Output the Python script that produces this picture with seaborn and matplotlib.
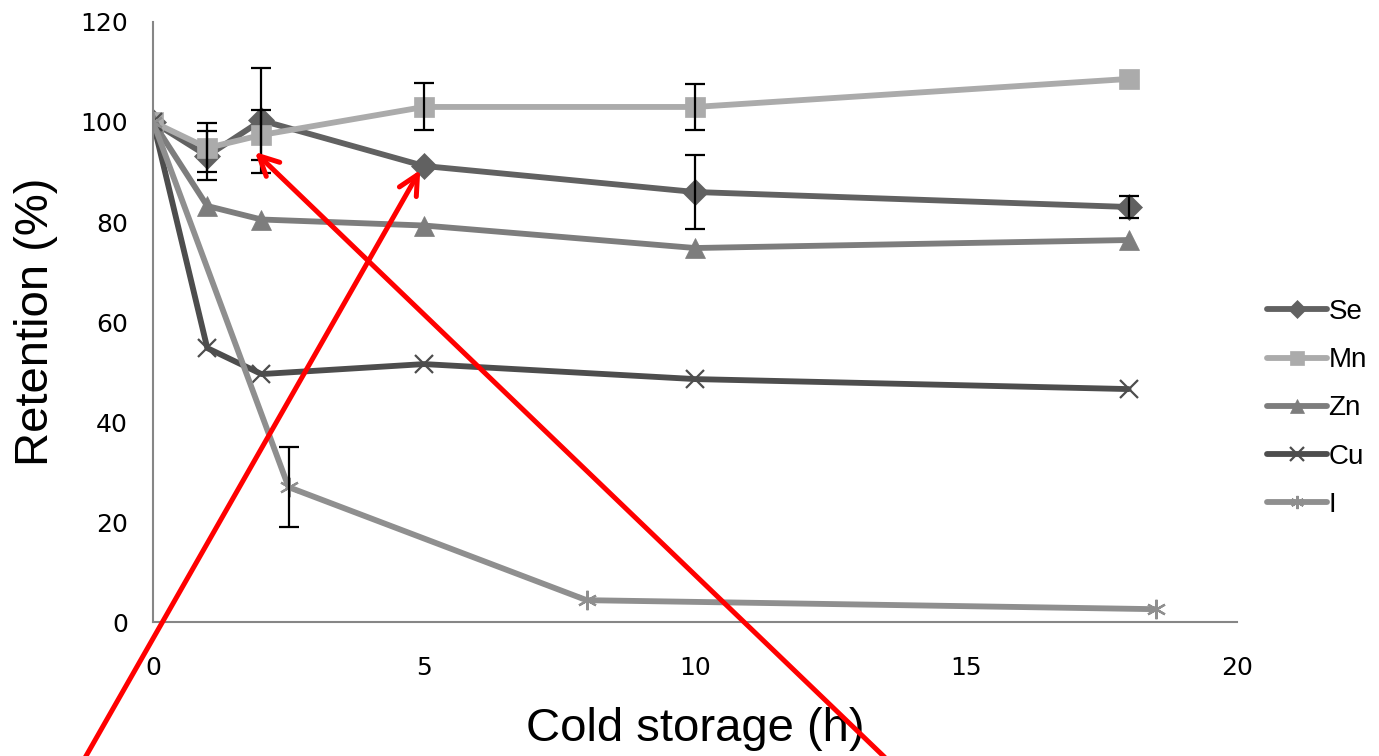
import numpy as np
import pandas as pd
import matplotlib
matplotlib.use("Agg")
import matplotlib.pyplot as plt
import seaborn as sns

# -----------------------------
# Données
# -----------------------------
hours_se = [0, 1, 2, 5, 10, 18]
se = [100, 93.2, 100.3, 91.2, 86.0, 83.0]
se_err = [0, 4.9, 10.5, 0, 7.4, 2.2]

hours_mn = [0, 1, 2, 5, 10, 18]
mn = [100, 94.8, 97.4, 103.0, 103.0, 108.6]
mn_err = [0, 4.9, 5.0, 4.7, 4.6, 0]

hours_zn = [0, 1, 2, 5, 10, 18]
zn = [100, 83.2, 80.5, 79.3, 74.8, 76.4]

hours_cu = [0, 1, 2, 5, 10, 18]
cu = [100, 54.8, 49.6, 51.6, 48.6, 46.6]

hours_i = [0, 2.5, 8, 18.5]
iodine = [100, 27.0, 4.4, 2.6]
iodine_err = [0, 8.0, 0, 0]

# flèches rouges (annotations ajoutées sur la figure)
arrow_tips = [(4.93, 90.4), (1.88, 94.0)]
arrow_tails = [(-1.25, -27.0), (13.5, -27.0)]

# -----------------------------
# Style
# -----------------------------
sns.set_style("white")
plt.rcParams['font.family'] = ['DejaVu Sans']

series = [
    ("Se", hours_se, se, se_err, "#616161", "D", 13),
    ("Mn", hours_mn, mn, mn_err, "#ababab", "s", 14),
    ("Zn", hours_zn, zn, None, "#7d7d7d", "^", 14),
    ("Cu", hours_cu, cu, None, "#4d4d4d", "x", 13),
    ("I", hours_i, iodine, iodine_err, "#8f8f8f", (6, 2, 0), 14),
]

fig = plt.figure(figsize=(13.79, 7.56), dpi=100)
ax = fig.add_axes([0.111, 0.177, 0.786, 0.794])

for name, xs, ys, err, col, mk, ms in series:
    df = pd.DataFrame({"h": xs, "ret": ys})
    sns.lineplot(data=df, x="h", y="ret", ax=ax, color=col, marker=mk,
                 markersize=ms, linewidth=4.2, label=name,
                 markeredgecolor=col, markeredgewidth=1.6 if mk in ("x", (6, 2, 0)) else 0.5)
    if err is not None:
        e = np.array(err, dtype=float)
        mask = e > 0
        ax.errorbar(np.array(xs)[mask], np.array(ys)[mask], yerr=e[mask], fmt="none",
                    ecolor="black", elinewidth=1.6, capsize=7, capthick=1.6, zorder=5)

for tip, tail in zip(arrow_tips, arrow_tails):
    ax.annotate("", xy=tip, xytext=tail, annotation_clip=False,
                arrowprops=dict(arrowstyle="->", color="red", lw=3.6, mutation_scale=35,
                                shrinkA=0, shrinkB=0), zorder=10)

ax.set_xlim(0, 20)
ax.set_ylim(0, 120)
ax.set_xticks([0, 5, 10, 15, 20])
ax.set_yticks(range(0, 121, 20))
ax.tick_params(axis="both", length=0, labelsize=18, labelcolor="black")
ax.tick_params(axis="x", pad=24)
ax.tick_params(axis="y", pad=18)
for s in ["top", "right"]:
    ax.spines[s].set_visible(False)
for s in ["left", "bottom"]:
    ax.spines[s].set_color("#868686")
    ax.spines[s].set_linewidth(1.5)

ax.set_xlabel("Cold storage (h)", fontsize=34, family="Liberation Sans", labelpad=20, color="black")
ax.set_ylabel("Retention (%)", fontsize=34, family="Liberation Sans", labelpad=16, color="black")

leg = ax.legend(loc="center left", bbox_to_anchor=(1.028, 0.356), frameon=False,
                prop={"family": "Liberation Sans", "size": 20}, handlelength=2.15,
                labelspacing=0.8, handletextpad=0.05, borderaxespad=0, borderpad=0)
for h in leg.legend_handles:
    h.set_markersize(9.5)
    h.set_linewidth(4.2)
for t in leg.get_texts():
    t.set_color("black")

fig.savefig("out.png", dpi=100)
